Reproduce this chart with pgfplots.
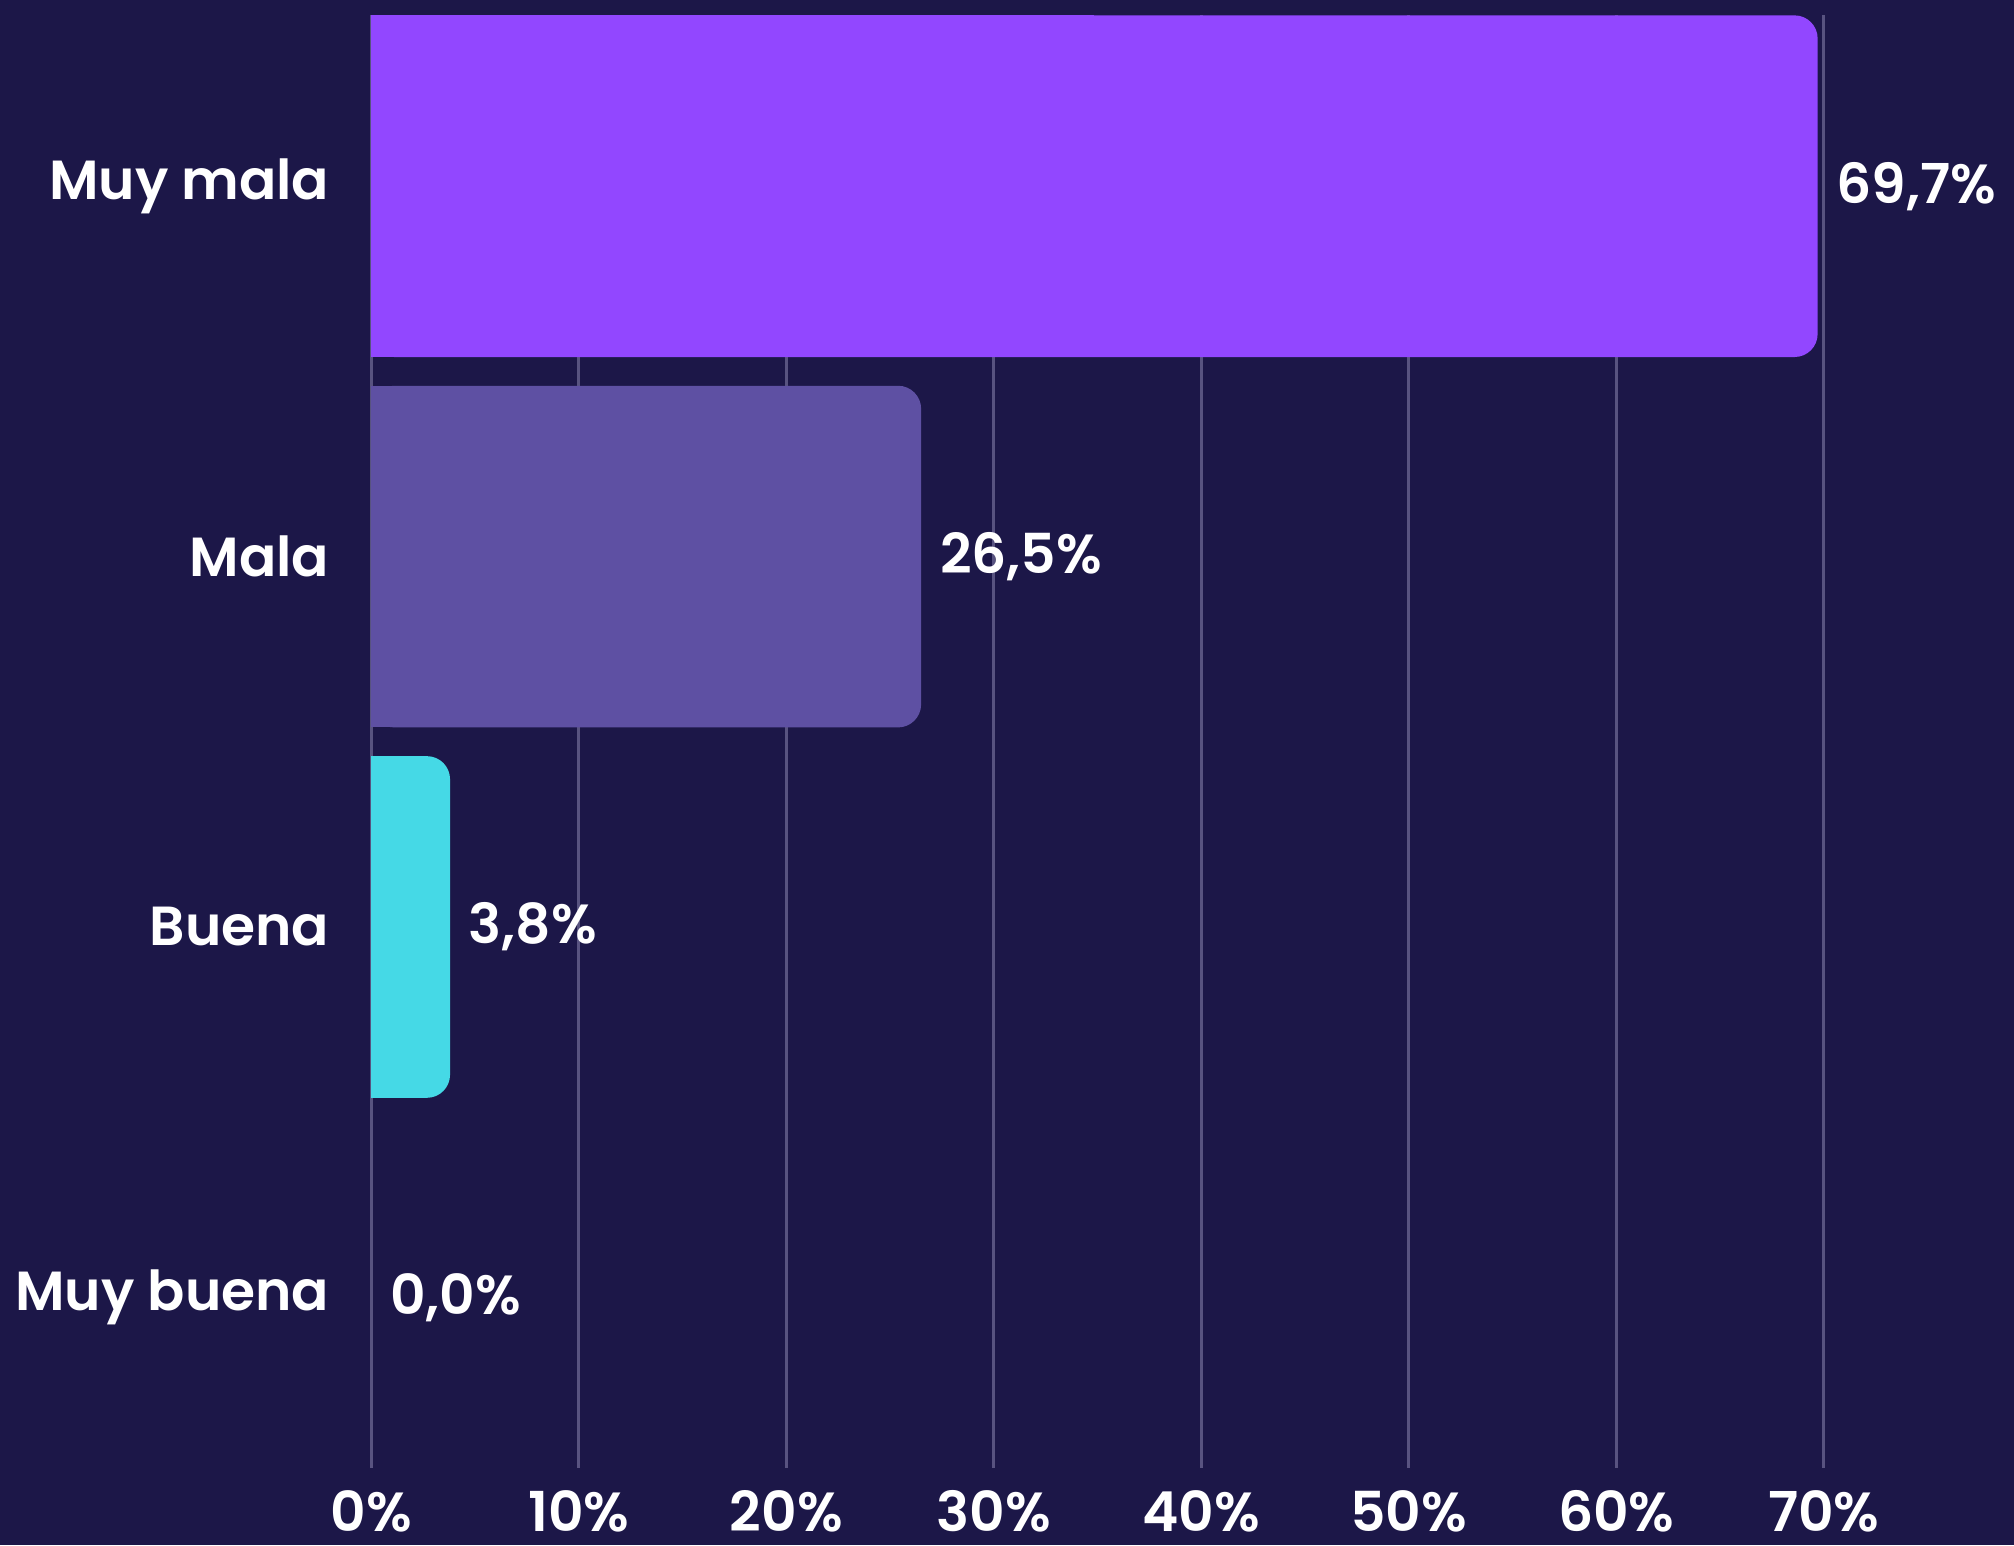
\documentclass[border=0pt]{standalone}
\usepackage{pgfplots}
\pgfplotsset{compat=1.18}
\usepackage{fontspec}
\setmainfont{Poppins}[UprightFont=* SemiBold]

\definecolor{bgc}{RGB}{28,23,72}
\definecolor{cmuymala}{RGB}{146,71,255}
\definecolor{cmala}{RGB}{94,80,163}
\definecolor{cbuena}{RGB}{69,217,230}
\definecolor{gridc}{RGB}{88,83,128}

\begin{document}
\begin{tikzpicture}
\fill[bgc] (-2.89cm,-0.60cm) rectangle (12.79cm,11.43cm);
\useasboundingbox (-2.89cm,-0.60cm) rectangle (12.79cm,11.43cm);
\begin{axis}[
  at={(0,0)}, anchor=south west,
  scale only axis, width=11.31cm, height=11.31cm,
  xbar, bar width=2.66cm, bar shift=0pt,
  xmin=0, xmax=70, ymin=-0.461, ymax=3.461, y dir=reverse,
  xtick={0,10,...,70},
  xticklabel={\pgfmathprintnumber{\tick}\%},
  ytick={0,1,2,3},
  yticklabels={Muy mala,Mala,Buena,Muy buena},
  axis line style={draw=none}, major tick length=0pt,
  xmajorgrids, major grid style={gridc, line width=0.7pt},
  /pgf/number format/assume math mode=true,
  tick label style={white, font=\fontsize{12.2}{15}\selectfont, inner sep=0pt},
  xticklabel style={anchor=north, yshift=-0.17cm},
  yticklabel style={anchor=east, xshift=-0.32cm},
  point meta=x,
  nodes near coords={\pgfmathprintnumber[fixed,fixed zerofill,precision=1,use comma]{\pgfplotspointmeta}\%},
  nodes near coords style={anchor=west, inner sep=0pt, xshift=0.14cm, white, font=\fontsize{12.2}{15}\selectfont},
  clip=false,
]
% bars with rounded ends
\addplot[fill=cmuymala, draw=none, rounded corners=0.18cm] coordinates {(69.7,0)};
\addplot[fill=cmala, draw=none, rounded corners=0.18cm] coordinates {(26.5,1)};
\addplot[fill=cbuena, draw=none, rounded corners=0.18cm] coordinates {(3.8,2)};
\addplot[draw=none, fill=none] coordinates {(0,3)};
% square left halves so only the right ends are rounded
\addplot[fill=cmuymala, draw=none, forget plot, nodes near coords={}, x filter/.expression={x/2}] coordinates {(69.7,0)};
\addplot[fill=cmala, draw=none, forget plot, nodes near coords={}, x filter/.expression={x/2}] coordinates {(26.5,1)};
\addplot[fill=cbuena, draw=none, forget plot, nodes near coords={}, x filter/.expression={x/2}] coordinates {(3.8,2)};
\end{axis}
\end{tikzpicture}
\end{document}
